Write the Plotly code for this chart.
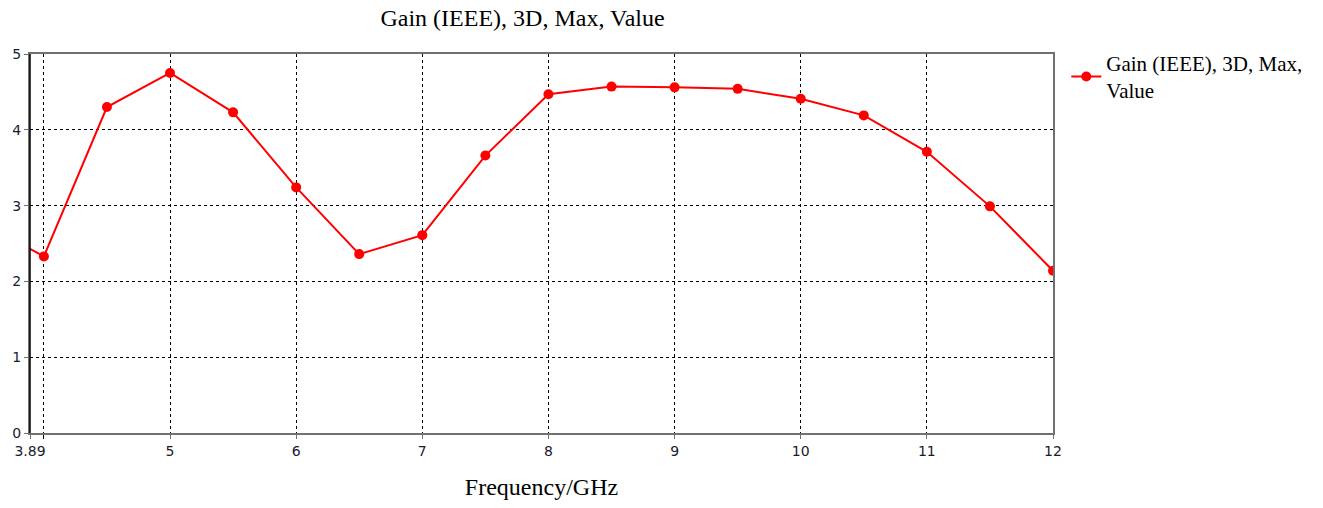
import plotly.graph_objects as go

freq = [3.5, 4.0, 4.5, 5.0, 5.5, 6.0, 6.5, 7.0, 7.5, 8.0, 8.5, 9.0, 9.5, 10.0, 10.5, 11.0, 11.5, 12.0]
gain = [2.78, 2.33, 4.30, 4.75, 4.23, 3.24, 2.36, 2.61, 3.66, 4.47, 4.57, 4.56, 4.54, 4.41, 4.19, 3.71, 2.99, 2.14]
x_tickvals = [3.89, 5, 6, 7, 8, 9, 10, 11, 12]
x_ticktext = ["3.89", "5", "6", "7", "8", "9", "10", "11", "12"]
y_tickvals = [0, 1, 2, 3, 4, 5]

serif = "Liberation Serif, Times New Roman, serif"
sans = "DejaVu Sans, Verdana, sans-serif"

fig = go.Figure()
fig.add_trace(go.Scatter(
    x=freq, y=gain, mode="lines+markers",
    name="Gain (IEEE), 3D, Max,<br>Value",
    line=dict(color="#ff0000", width=2),
    marker=dict(color="#ff0000", size=10),
))

fig.update_layout(
    width=1323, height=508,
    margin=dict(l=28, r=270, t=54, b=74),
    paper_bgcolor="white", plot_bgcolor="white",
    showlegend=True,
    legend=dict(x=1.013, y=1.03, xanchor="left", yanchor="top",
                font=dict(family=serif, size=21, color="black"),
                bgcolor="rgba(0,0,0,0)", itemwidth=30),
    title=dict(text="Gain (IEEE), 3D, Max, Value", x=(521.5 - 28) / 1025, xref="paper",
               xanchor="center", y=0.965, yanchor="middle",
               font=dict(family=serif, size=24, color="black")),
    xaxis=dict(
        range=[3.89, 12], tickmode="array", tickvals=x_tickvals, ticktext=x_ticktext,
        showgrid=False, zeroline=False,
        showline=True, linecolor="#707070", linewidth=2, mirror=True,
        ticks="outside", ticklen=4, tickcolor="#707070",
        tickfont=dict(family=sans, size=14, color="#1a1a2e"),
        minor=dict(tick0=4, dtick=1, showgrid=True, gridcolor="black", gridwidth=1,
                   griddash="3px,3px", ticks="outside", ticklen=4, tickcolor="black"),
        title=dict(text="Frequency/GHz", font=dict(family=serif, size=24, color="black"), standoff=20),
    ),
    yaxis=dict(
        range=[0, 5], tickmode="array", tickvals=y_tickvals,
        showgrid=True, gridcolor="black", gridwidth=1, griddash="3px,3px",
        zeroline=False,
        showline=True, linecolor="#707070", linewidth=2, mirror=True,
        ticks="outside", ticklen=4, tickcolor="#707070",
        tickfont=dict(family=sans, size=14, color="#1a1a2e"),
    ),
)

# left axis drawn as black solid line
fig.add_shape(type="line", xref="paper", yref="paper", x0=0, x1=0, y0=0, y1=1,
              line=dict(color="black", width=1.5), layer="above")

fig.write_html("out.html")
